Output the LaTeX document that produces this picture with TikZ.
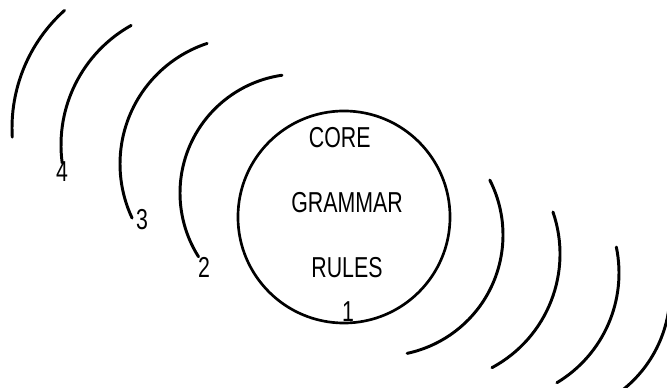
\documentclass[tikz,border=0pt]{standalone}
\usepackage{fontspec}
\setmainfont[FakeStretch=0.74]{Liberation Sans}
\usetikzlibrary{positioning}
\begin{document}
\begin{tikzpicture}[x=0.025cm,y=0.025cm,node distance=1.1cm,
 every node/.style={font=\fontsize{20.5}{22}\selectfont,inner sep=0pt},
 ripple/.style={line width=2.1pt,line cap=round},
 hub/.style={circle,draw,line width=1.9pt,minimum size=5.3cm}]
 \useasboundingbox (0,0) rectangle (667,388);
 \clip (0,0) rectangle (667,388);
 % core circle and its text
 \node[hub] (hub) at (344,171) {};
 \node (gram) at (347,185) {GRAMMAR};
 \node[above=of gram,xshift=-0.18cm] (core) {CORE};
 \node[below=of gram] (rules) {RULES};
 \node (one) at (348,76) {1};
 % rings on the left
 \coordinate (cA) at (170,260);
 \coordinate (cB) at (198,243);
 \coordinate (cC) at (247,224);
 \coordinate (cD) at (299,195);
 \draw[ripple] (cA) ++(131.9:158) arc[start angle=131.9,end angle=183.3,radius=158];
 \draw[ripple] (cB) ++(119.2:137) arc[start angle=119.2,end angle=187.5,radius=137];
 \draw[ripple] (cC) ++(108.3:127) arc[start angle=108.3,end angle=205.2,radius=127];
 \draw[ripple] (cD) ++(98.2:119) arc[start angle=98.2,end angle=212.4,radius=119];
 \node (n4) at (62,216) {4};
 \node (n3) at (142,168) {3};
 \node (n2) at (204,121) {2};
 % rings on the right
 \coordinate (cE) at (382,153);
 \coordinate (cF) at (431,134);
 \coordinate (cG) at (491,115);
 \coordinate (cH) at (545,96);
 \draw[ripple] (cE) ++(27:121) arc[start angle=27,end angle=-78,radius=121];
 \draw[ripple] (cF) ++(19:129) arc[start angle=19,end angle=-61.8,radius=129];
 \draw[ripple] (cG) ++(11.7:128) arc[start angle=11.7,end angle=-59,radius=128];
 \draw[ripple] (cH) ++(5:125) arc[start angle=5,end angle=-55,radius=125];
\end{tikzpicture}
\end{document}
